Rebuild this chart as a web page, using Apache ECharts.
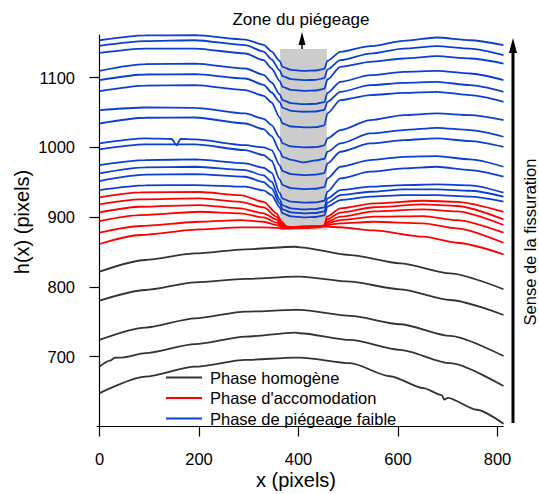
<!DOCTYPE html>
<html><head><meta charset="utf-8">
<script src="https://cdn.jsdelivr.net/npm/echarts@6/dist/echarts.min.js"></script>
<style>html,body{margin:0;padding:0;background:#fff}#c{width:539px;height:494px}</style>
</head><body><div id="c"></div>
<script>
// ---------- data ----------
const xTicks = [0, 200, 400, 600, 800];
const yTicks = [700, 800, 900, 1000, 1100];

const legendNames = ['Phase homogène', "Phase d'accomodation", 'Phase de piégeage faible'];

// trapping zone (x range, h range)
const zoneX = [363, 457];
const zoneY = [882, 1141];

// black : homogeneous phase
const xBlack = [0, 92, 192, 293, 393, 403, 504, 604, 705, 812];
const black1 = [821.8, 838.6, 848.0, 853.9, 857.6, 856.8, 845.7, 833.8, 819.5, 796.7];
const black2 = [780.3, 795.6, 806.6, 811.4, 814.7, 814.7, 807.5, 796.6, 781.3, 759.8];
const black3 = [724.1, 741.7, 755.0, 764.6, 767.0, 767.0, 758.4, 746.5, 729.8, 701.0];
const xBlack4 = [0, 21, 31, 45, 92, 192, 293, 393, 403, 504, 604, 705, 812];
const black4 = [686.0, 694.5, 698.5, 698.8, 705.0, 717.9, 728.8, 734.6, 733.6, 724.0, 709.8, 690.7, 658.0];
const xBlack5 = [0, 92, 192, 293, 393, 403, 504, 584, 651, 688, 693, 700, 758, 812];
const black5 = [647.8, 671.5, 685.8, 695.4, 698.8, 698.8, 690.7, 672.0, 655.0, 645.0, 638.5, 641.0, 624.0, 604.0];

// red : accommodation phase
const xRed = [0, 82, 202, 283, 330, 356, 366, 377, 410, 440, 452, 457, 484, 551, 651, 718, 812];
const red1 = [928.4, 935.5, 936.0, 931.6, 922.0, 905.4, 893.4, 886.3, 884.5, 885.5, 888.0, 900.6, 912.6, 919.8, 923.5, 922.0, 907.7];
const red2 = [918.3, 925.5, 926.9, 922.0, 914.0, 900.6, 891.1, 885.4, 885.0, 886.0, 888.0, 896.8, 906.5, 914.2, 918.3, 916.0, 896.8];
const red3 = [906.9, 914.9, 917.3, 912.6, 905.4, 896.3, 888.7, 885.0, 886.0, 886.5, 887.5, 893.4, 900.6, 908.2, 911.2, 908.2, 888.7];
const red4 = [894.4, 903.0, 907.7, 905.4, 899.7, 892.0, 887.3, 885.0, 887.0, 887.0, 887.5, 891.1, 895.8, 900.6, 901.6, 895.8, 877.7];
const red5 = [877.7, 887.3, 893.4, 895.8, 893.4, 888.7, 886.0, 884.5, 886.0, 887.0, 887.5, 888.7, 891.1, 893.4, 891.1, 883.9, 863.3];
const red6 = [861.5, 874.4, 882.5, 885.4, 885.4, 884.5, 884.0, 883.5, 885.0, 886.0, 886.3, 886.3, 885.5, 881.0, 872.0, 863.3, 846.7];

// blue : weak trapping phase
const xBlue = [0, 92, 192, 293, 330, 346, 362, 368, 385, 410, 435, 452, 458, 484, 544, 611, 678, 745, 812];
const blue1  = [1153.5, 1160.5, 1160.7, 1154.5, 1146.9, 1137.3, 1124.0, 1115.4, 1111.1, 1109.6, 1110.1, 1112.5, 1124.0, 1136.9, 1145.0, 1152.6, 1157.4, 1153.5, 1146.4];
const blue2  = [1145.4, 1152.1, 1153.5, 1146.4, 1137.3, 1125.9, 1110.6, 1102.0, 1097.7, 1096.3, 1096.8, 1099.1, 1111.5, 1124.9, 1134.4, 1141.6, 1145.0, 1141.6, 1132.1];
const blue3  = [1135.4, 1141.6, 1141.6, 1134.5, 1124.9, 1113.0, 1095.3, 1086.7, 1082.4, 1081.0, 1081.5, 1083.9, 1097.2, 1115.4, 1122.5, 1127.3, 1130.6, 1127.3, 1120.1];
const blue4  = [1109.6, 1119.2, 1120.1, 1113.0, 1103.9, 1092.9, 1076.2, 1067.6, 1063.4, 1061.9, 1062.4, 1064.8, 1078.1, 1093.9, 1103.4, 1108.2, 1109.6, 1105.8, 1096.3];
const blue5  = [1096.3, 1104.4, 1104.9, 1098.7, 1089.6, 1078.6, 1065.3, 1056.7, 1052.4, 1051.0, 1051.4, 1053.8, 1065.3, 1079.6, 1089.1, 1092.5, 1093.9, 1089.1, 1079.6];
const blue6  = [1080.5, 1088.6, 1089.1, 1082.0, 1073.9, 1064.3, 1042.8, 1034.2, 1029.9, 1028.5, 1029.0, 1031.4, 1048.6, 1067.6, 1074.8, 1078.1, 1079.6, 1074.8, 1065.3];
const blue7  = [1053.3, 1057.1, 1056.7, 1048.6, 1040.9, 1031.9, 1014.2, 1005.6, 1001.3, 999.9, 1000.4, 1002.7, 1012.8, 1024.7, 1039.0, 1046.2, 1048.6, 1046.2, 1039.0];
const blue8  = [1034.2, 1042.4, 1042.8, 1034.2, 1026.1, 1016.1, 995.1, 986.5, 982.2, 978.5, 981.3, 983.7, 993.7, 1005.6, 1019.9, 1024.7, 1028.0, 1024.7, 1015.2];
const blue9  = [1005.6, 1012.8, 1011.3, 1003.2, 999.9, 996.1, 974.6, 966.0, 961.7, 960.3, 960.8, 963.1, 977.0, 993.7, 1005.6, 1010.4, 1012.8, 1009.0, 1000.8];
const blue10 = [997.0, 1004.2, 1004.2, 996.1, 988.9, 980.8, 954.5, 946.0, 941.6, 940.2, 940.7, 943.1, 955.5, 972.2, 981.8, 986.5, 987.5, 982.7, 972.2];
const blue11 = [974.6, 981.8, 982.7, 977.0, 970.8, 963.6, 935.0, 926.4, 922.1, 920.7, 921.2, 923.5, 936.4, 955.5, 965.1, 969.8, 972.2, 967.4, 957.9];
const blue12 = [962.7, 971.3, 972.2, 967.4, 959.8, 950.7, 925.4, 916.8, 912.6, 911.1, 911.6, 914.0, 926.9, 938.8, 943.6, 946.0, 946.9, 945.5, 935.0];
const blue13 = [951.7, 960.8, 961.7, 957.9, 950.3, 941.2, 919.7, 911.1, 906.8, 905.4, 905.9, 908.3, 920.7, 931.6, 936.4, 939.8, 939.8, 937.8, 929.3];
const blue14 = [938.8, 945.5, 946.0, 943.6, 938.3, 931.6, 914.0, 905.4, 901.1, 899.7, 900.2, 902.5, 915.0, 924.5, 929.3, 931.6, 931.6, 929.3, 922.1];
// small notch on blue9 near x = 155
const notch9X = [145, 155, 163];
const notch9Y = [1012.0, 1003.0, 1012.0];

// ---------- build ----------
const FONT = "'Liberation Sans', Arial, Helvetica, sans-serif";
const COL = { black: '#333333', red: '#ff0000', blue: '#0b3fcf' };

function pairs(xs, ys) { return xs.map((x, i) => [x, ys[i]]); }
function mergeSorted(a, b) { return a.concat(b).sort((p, q) => p[0] - q[0]); }

function lineSeries(name, color, data) {
  return {
    type: 'line', name: name, data: data, symbol: 'none', showSymbol: false,
    smooth: 0.25, smoothMonotone: 'x', silent: true, animation: false,
    lineStyle: { color: color, width: 1.8 }, itemStyle: { color: color }, z: 3
  };
}

const series = [];
// zone background
series.push({
  type: 'line', name: 'zone', data: [], silent: true, z: 1,
  markArea: {
    silent: true, itemStyle: { color: '#cccccc', opacity: 1 },
    data: [[{ coord: [zoneX[0], zoneY[0]] }, { coord: [zoneX[1], zoneY[1]] }]]
  }
});
[[xBlack, black1], [xBlack, black2], [xBlack, black3], [xBlack4, black4], [xBlack5, black5]]
  .forEach(([xs, ys]) => series.push(lineSeries(legendNames[0], COL.black, pairs(xs, ys))));
[red1, red2, red3, red4, red5, red6]
  .forEach(ys => series.push(lineSeries(legendNames[1], COL.red, pairs(xRed, ys))));
[blue1, blue2, blue3, blue4, blue5, blue6, blue7, blue8, blue9, blue10, blue11, blue12, blue13, blue14]
  .forEach((ys, i) => {
    let d = pairs(xBlue, ys);
    if (i === 8) d = mergeSorted(d, pairs(notch9X, notch9Y));
    series.push(lineSeries(legendNames[2], COL.blue, d));
  });

const chart = echarts.init(document.getElementById('c'), null, { renderer: 'svg' });
chart.setOption({
  backgroundColor: '#ffffff',
  animation: false,
  textStyle: { fontFamily: FONT },
  grid: { left: 97, right: 36, top: 35, bottom: 67.5, containLabel: false },
  xAxis: {
    type: 'value', min: -5, max: 811,
    axisLine: { show: true, lineStyle: { color: '#000', width: 1.2 } },
    axisTick: { show: true, inside: false, length: 10, customValues: xTicks, lineStyle: { color: '#000', width: 1.2 } },
    axisLabel: { customValues: xTicks, margin: 24, color: '#000', fontSize: 16.5, fontFamily: FONT, formatter: v => String(v) },
    splitLine: { show: false }
  },
  yAxis: {
    type: 'value', min: 600, max: 1161,
    axisLine: { show: true, lineStyle: { color: '#000', width: 1.2 } },
    axisTick: { show: true, inside: false, length: 10, customValues: yTicks, lineStyle: { color: '#000', width: 1.2 } },
    axisLabel: { customValues: yTicks, margin: 22, color: '#000', fontSize: 16.5, fontFamily: FONT, formatter: v => String(v) },
    splitLine: { show: false }
  },
  legend: {
    show: true, orient: 'vertical', left: 161, top: 364,
    icon: 'rect', itemWidth: 36, itemHeight: 2, itemGap: 3.5,
    data: legendNames,
    textStyle: { fontSize: 16.5, color: '#000', fontFamily: FONT, lineHeight: 14, padding: [0, 0, 0, 3] },
    selectedMode: false
  },
  series: series,
  graphic: [
    { type: 'text', x: 301, y: 19, style: { text: 'Zone du piégeage', fontSize: 17, fontFamily: FONT, fill: '#000', textAlign: 'center', textVerticalAlign: 'middle' } },
    { type: 'line', shape: { x1: 302, y1: 66, x2: 302, y2: 44 }, style: { stroke: '#000', lineWidth: 1.5 } },
    { type: 'polygon', shape: { points: [[298.5, 45], [305.5, 45], [302, 32]] }, style: { fill: '#000' } },
    { type: 'line', shape: { x1: 513, y1: 423, x2: 513, y2: 50 }, style: { stroke: '#000', lineWidth: 3 } },
    { type: 'polygon', shape: { points: [[509, 53], [517, 53], [513, 38]] }, style: { fill: '#000' } },
    { type: 'text', x: 530, y: 242, rotation: Math.PI / 2, style: { text: 'Sense de la fissuration', fontSize: 16.5, fontFamily: FONT, fill: '#000', textAlign: 'center', textVerticalAlign: 'middle' } },
    { type: 'text', x: 22, y: 222, rotation: Math.PI / 2, style: { text: 'h(x) (pixels)', fontSize: 20, fontFamily: FONT, fill: '#000', textAlign: 'center', textVerticalAlign: 'middle' } },
    { type: 'text', x: 296, y: 480, style: { text: 'x (pixels)', fontSize: 20, fontFamily: FONT, fill: '#000', textAlign: 'center', textVerticalAlign: 'middle' } }
  ]
});
</script></body></html>
